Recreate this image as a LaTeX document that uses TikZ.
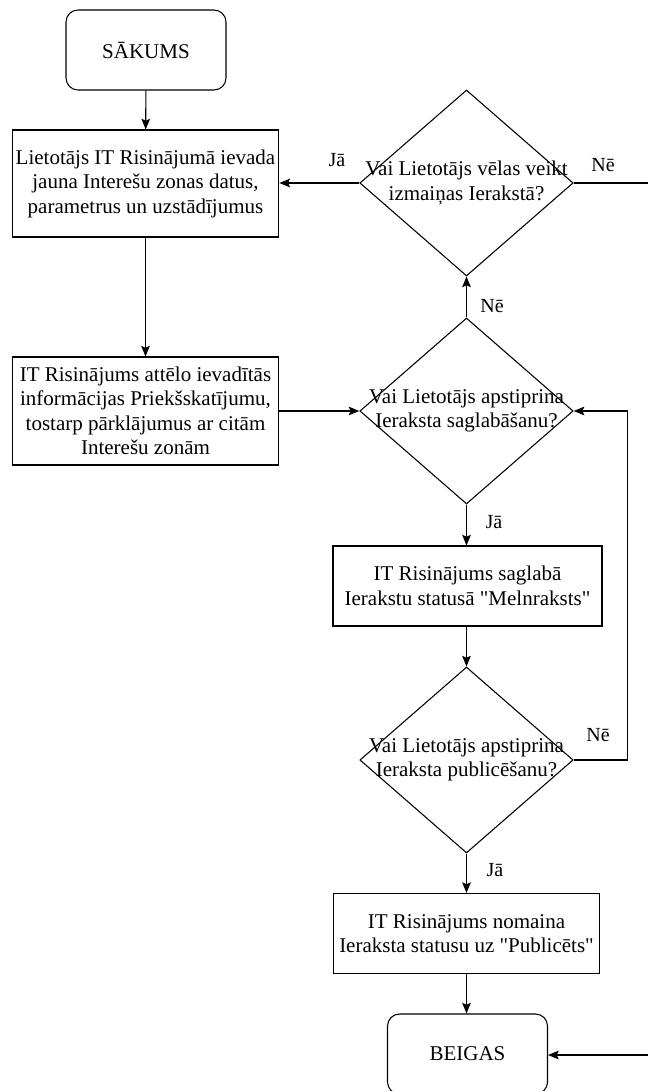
\documentclass[tikz,border=0pt]{standalone}
\usepackage{fontspec}
\setmainfont{Liberation Serif}[Ligatures=TeXOff]
\usetikzlibrary{shapes.geometric,arrows.meta}
\begin{document}
\begin{tikzpicture}[x=0.75pt,y=-0.75pt,
  every node/.style={font=\fontsize{15.75}{18.4}\selectfont},
  box/.style={draw, line width=0.8pt, align=center, inner sep=0pt, fill=white},
  term/.style={box, rounded corners=9pt, minimum width=120pt, minimum height=60pt},
  proc/.style={box, minimum width=200pt},
  dec/.style={draw, diamond, line width=0.8pt, inner sep=0pt, minimum width=160pt, minimum height=139.5pt},
  dtext/.style={align=center, inner sep=0pt},
  lbl/.style={font=\fontsize{15}{17}\selectfont, inner sep=0pt},
  arr/.style={line width=0.8pt, -{Stealth[length=8pt,width=6.5pt,inset=1.5pt]}},
  ln/.style={line width=0.8pt}
]
\clip (0,0) rectangle (648,1091);
\useasboundingbox (0,0) rectangle (648,1091);

\node[term] (start) at (146,50) {SĀKUMS};
\node[proc, minimum height=80.25pt] (b1) at (145.5,183.5) {Lietotājs IT Risinājumā ievada\\jauna Interešu zonas datus,\\parametrus un uzstādījumus};
\node[proc, minimum height=81pt] (b2) at (145.5,411) {IT Risinājums attēlo ievadītās\\informācijas Priekšskatījumu,\\tostarp pārklājumus ar citām\\Interešu zonām};

\node[dec, label={[dtext]center:Vai Lietotājs vēlas veikt\\izmaiņas Ierakstā?}] (d1) at (466.5,183) {};
\node[dec, label={[dtext]center:Vai Lietotājs apstiprina\\Ieraksta saglabāšanu?}] (d2) at (466.5,411) {};
\node[proc, minimum width=201.75pt, minimum height=60pt] (b3) at (467.5,586) {IT Risinājums saglabā\\Ierakstu statusā "Melnraksts"};
\node[dec, label={[dtext]center:Vai Lietotājs apstiprina\\Ieraksta publicēšanu?}] (d3) at (466.5,760) {};
\node[proc, minimum height=60pt] (b4) at (466.5,933.5) {IT Risinājums nomaina\\Ieraksta statusu uz "Publicēts"};
\node[term] (end) at (467.5,1054) {BEIGAS};

\coordinate (outR) at (655,0);
\coordinate (loopR) at (627.5,0);

\draw[arr] (start) -- (b1);
\draw[arr] (b1) -- (b2);
\draw[arr] (b2) -- (d2);
\draw[arr] (d2) -- (d1);
\draw[arr] (d1.west) -- (d1.west -| b1.east);
\draw[arr] (d1.east) -- (d1.east -| outR) |- ([yshift=-0.75pt]end.east);
\draw[arr] (d2) -- (d2 |- b3.north);
\draw[arr] (d2 |- b3.south) -- (d3);
\draw[arr] (d3.east) -- (d3.east -| loopR) |- (d2.east);
\draw[arr] (d3) -- (b4);
\draw[arr] (b4) -- (b4 |- end.north);

\node[lbl] (l1) at (337,160) {Jā};
\node[lbl] (l2) at (603,165) {Nē};
\node[lbl] (l3) at (492,306) {Nē};
\node[lbl] (l4) at (494,522) {Jā};
\node[lbl] (l5) at (598,735) {Nē};
\node[lbl] (l6) at (495,870) {Jā};
\end{tikzpicture}
\end{document}
